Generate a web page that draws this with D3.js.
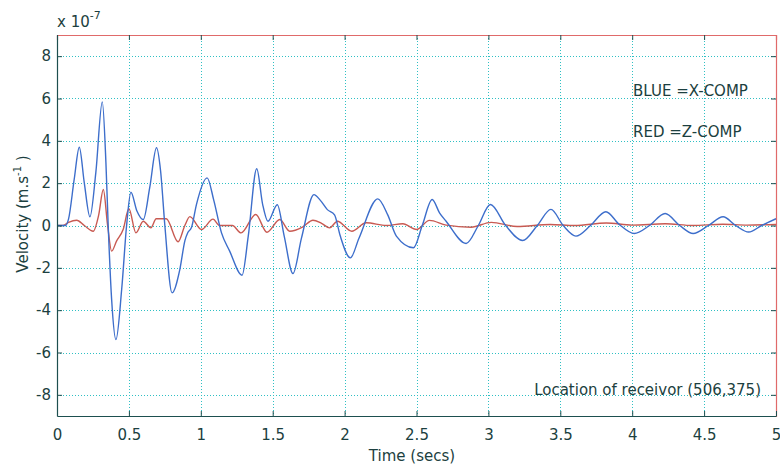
<!DOCTYPE html>
<html>
<head>
<meta charset="utf-8">
<script src="https://cdn.jsdelivr.net/npm/d3@7"></script>
<style>
  body { margin: 0; background: #fff; }
  text { font-family: "DejaVu Sans", sans-serif; fill: #1c3f40; }
</style>
</head>
<body>
<script>
const width = 780;
const height = 467;

// seismogram at receiver (506,375), velocity in units of 1e-7 m/s
const xTicks = [0, 0.5, 1, 1.5, 2, 2.5, 3, 3.5, 4, 4.5, 5];
const yTicks = [-8, -6, -4, -2, 0, 2, 4, 6, 8];

// blue = X component
const xComp = [
  [0, 0], [0.06, 0], [0.08, 0.3], [0.12, 2.2], [0.155, 3.7], [0.19, 2.0], [0.229, 0.41],
  [0.27, 2.5], [0.315, 5.84], [0.34, 3.0], [0.356, 0], [0.38, -3.5], [0.41, -5.39],
  [0.45, -3.0], [0.484, 0], [0.514, 1.57], [0.555, 0.7], [0.6, 0.28], [0.645, 1.8],
  [0.692, 3.67], [0.72, 2.6], [0.75, 0], [0.8, -3.18], [0.854, -2.08], [0.89, -0.7],
  [0.91, -0.33], [0.935, -0.1], [0.97, 1.0], [1.044, 2.25], [1.09, 1.2], [1.144, -0.35],
  [1.2, -1.2], [1.287, -2.35], [1.33, -0.5], [1.389, 2.68], [1.43, 1.0], [1.467, 0.2],
  [1.532, 0.98], [1.58, -0.5], [1.641, -2.27], [1.7, -0.6], [1.787, 1.46], [1.83, 1.2],
  [1.88, 0.75], [1.93, 0.5], [1.97, -0.5], [2.04, -1.53], [2.1, -0.6], [2.231, 1.26],
  [2.3, 0.5], [2.36, -0.5], [2.479, -1.05], [2.54, 0], [2.609, 1.23], [2.66, 0.6],
  [2.706, 0.2], [2.845, -0.85], [2.93, 0], [3.014, 0.99], [3.12, 0], [3.238, -0.71],
  [3.34, 0], [3.435, 0.76], [3.52, 0], [3.609, -0.5], [3.71, 0], [3.817, 0.65],
  [3.91, 0.05], [4.014, -0.38], [4.12, 0], [4.229, 0.57], [4.33, 0], [4.424, -0.38],
  [4.53, 0], [4.632, 0.41], [4.72, 0], [4.81, -0.31], [4.9, 0], [5.0, 0.32]
];

// red = Z component
const zComp = [
  [0, 0], [0.04, 0], [0.08, 0.15], [0.137, 0.25], [0.19, 0], [0.252, -0.27], [0.29, 0.5],
  [0.322, 1.7], [0.352, 0], [0.38, -1.21], [0.414, -0.74], [0.46, -0.19], [0.5, 0.79],
  [0.549, -0.35], [0.6, 0.2], [0.653, -0.11], [0.69, 0.32], [0.76, 0.32], [0.842, -0.77],
  [0.889, 0], [0.924, 0.42], [1.005, -0.19], [1.085, 0.3], [1.13, 0], [1.22, 0],
  [1.28, -0.35], [1.382, 0.52], [1.46, -0.32], [1.549, 0.28], [1.618, -0.27], [1.71, -0.06],
  [1.78, 0.25], [1.84, 0.1], [1.896, -0.11], [1.95, 0.2], [2.05, -0.27], [2.15, 0.13],
  [2.29, 0], [2.405, 0.08], [2.5, -0.19], [2.59, 0.24], [2.706, 0.02], [2.88, -0.08],
  [3.02, 0.15], [3.2, -0.05], [3.43, 0.05], [3.6, 0], [3.82, 0.12], [4.0, 0.02],
  [4.23, 0.08], [4.42, 0.0], [4.63, 0.06], [4.8, 0.02], [5.0, 0.05]
];

const m = { left: 57, right: 4, top: 35, bottom: 51 };
const x = d3.scaleLinear().domain([0, 5]).range([m.left, width - m.right]);
const y = d3.scaleLinear().domain([-9, 9]).range([height - m.bottom, m.top]);

const svg = d3.select('body').append('svg')
  .attr('width', width)
  .attr('height', height);

svg.append('rect')
  .attr('width', width).attr('height', height)
  .attr('fill', '#fff');

// dotted grid
const grid = svg.append('g')
  .attr('stroke', '#2fc0c4')
  .attr('stroke-width', 1)
  .attr('stroke-dasharray', '1,2');

grid.selectAll('.gx')
  .data(xTicks.filter(d => d > 0 && d < 5))
  .enter().append('line')
  .attr('x1', d => Math.round(x(d)) + 0.5).attr('x2', d => Math.round(x(d)) + 0.5)
  .attr('y1', y(9)).attr('y2', y(-9));

grid.selectAll('.gy')
  .data(yTicks)
  .enter().append('line')
  .attr('y1', d => Math.round(y(d)) + 0.5).attr('y2', d => Math.round(y(d)) + 0.5)
  .attr('x1', x(0)).attr('x2', x(5));

// data lines
const line = d3.line()
  .x(d => x(d[0]))
  .y(d => y(d[1]))
  .curve(d3.curveMonotoneX);

svg.append('path')
  .datum(zComp)
  .attr('fill', 'none')
  .attr('stroke', '#c85a52')
  .attr('stroke-width', 1.4)
  .attr('d', line);

svg.append('path')
  .datum(xComp)
  .attr('fill', 'none')
  .attr('stroke', '#3d6ecb')
  .attr('stroke-width', 1.4)
  .attr('d', line);

// box top/right
const axTop = svg.append('g')
  .attr('transform', `translate(0, ${y(9)})`)
  .call(d3.axisTop(x).tickValues(xTicks).tickSize(-5).tickFormat(''));
const axRight = svg.append('g')
  .attr('transform', `translate(${x(5)}, 0)`)
  .call(d3.axisRight(y).tickValues(yTicks).tickSize(-5).tickFormat(''));
[axTop, axRight].forEach(g => {
  g.select('.domain').attr('stroke', '#e06a6a').attr('stroke-width', 1.2);
  g.selectAll('.tick line').attr('stroke', '#1d4f4f');
});

// left / bottom axes
const axLeft = svg.append('g')
  .attr('transform', `translate(${x(0)}, 0)`)
  .call(d3.axisLeft(y).tickValues(yTicks).tickSize(-5).tickPadding(6).tickSizeOuter(0)
    .tickFormat(d => String(d)));
const axBottom = svg.append('g')
  .attr('transform', `translate(0, ${y(-9)})`)
  .call(d3.axisBottom(x).tickValues(xTicks).tickSize(-5).tickPadding(13).tickSizeOuter(0)
    .tickFormat(d => String(d)));
[axLeft, axBottom].forEach(g => {
  g.select('.domain').attr('stroke', '#1d4f4f').attr('stroke-width', 1.2);
  g.selectAll('.tick line').attr('stroke', '#1d4f4f');
  g.selectAll('.tick text')
    .attr('font-family', '"DejaVu Sans", sans-serif')
    .attr('font-size', 15)
    .attr('fill', '#1c3f40');
});

// exponent label
const expo = svg.append('text')
  .attr('x', 57).attr('y', 27)
  .attr('font-size', 15);
expo.append('tspan').text('x 10');
expo.append('tspan').attr('dy', -8).attr('font-size', 11).text('-7');

// axis titles
svg.append('text')
  .attr('x', 412).attr('y', 461)
  .attr('text-anchor', 'middle')
  .attr('font-size', 15)
  .text('Time (secs)');

const yl = svg.append('text')
  .attr('transform', `translate(28, 214) rotate(-90)`)
  .attr('text-anchor', 'middle')
  .attr('font-size', 15);
yl.append('tspan').text('Velocity (m.s');
yl.append('tspan').attr('dy', -7).attr('font-size', 10).text('-1');
yl.append('tspan').attr('dy', 7).text(' )');

// annotations
svg.append('text').attr('x', 633).attr('y', 96).attr('font-size', 15).text('BLUE =X-COMP');
svg.append('text').attr('x', 633).attr('y', 137).attr('font-size', 15).text('RED =Z-COMP');
svg.append('text').attr('x', 761).attr('y', 395).attr('text-anchor', 'end')
  .attr('font-size', 15).text('Location of receivor (506,375)');
</script>
</body>
</html>
